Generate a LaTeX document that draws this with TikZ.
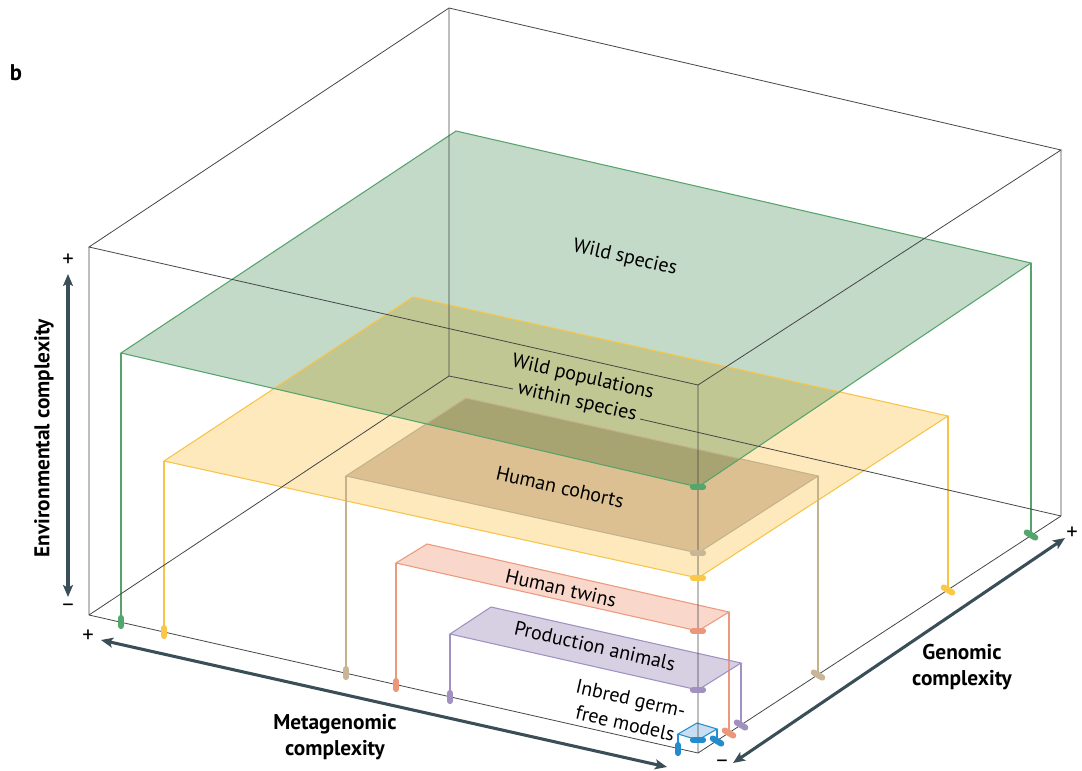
\documentclass[tikz,border=0pt]{standalone}
\usepackage{fontspec}
\setmainfont{PT Sans}
\usetikzlibrary{arrows.meta}
\definecolor{boxc}{RGB}{70,70,70}
\definecolor{axc}{RGB}{58,78,88}
\definecolor{grL}{RGB}{88,163,108}
\definecolor{grF}{RGB}{194,218,199}
\definecolor{grM}{RGB}{82,166,110}
\definecolor{yeL}{RGB}{247,196,72}
\definecolor{yeF}{RGB}{254,233,189}
\definecolor{yeM}{RGB}{250,200,70}
\definecolor{taL}{RGB}{196,178,140}
\definecolor{taF}{RGB}{221,211,196}
\definecolor{taM}{RGB}{200,182,148}
\definecolor{piL}{RGB}{236,153,125}
\definecolor{piF}{RGB}{249,216,203}
\definecolor{piM}{RGB}{236,150,122}
\definecolor{puL}{RGB}{160,145,195}
\definecolor{puF}{RGB}{214,208,226}
\definecolor{puM}{RGB}{160,145,192}
\definecolor{blL}{RGB}{40,142,206}
\definecolor{blF}{RGB}{200,222,242}
\definecolor{blM}{RGB}{35,140,205}
\begin{document}
\begin{tikzpicture}[x=0.75pt,y=-0.75pt,
  boxline/.style={draw=boxc, line width=0.6pt},
  pl/.style={line width=0.8pt},
  drop/.style={line width=0.9pt},
  mk/.style={line width=4.6pt, line cap=round},
  lbl/.style={font=\fontsize{15}{19}\selectfont, rotate=-12.8, align=center, inner sep=0pt},
  axlbl/.style={font=\fontsize{16}{19}\selectfont\bfseries, align=center, inner sep=0pt},
  sgn/.style={font=\fontsize{17}{19}\selectfont, inner sep=0pt},
  axarrow/.style={draw=axc, line width=2.3pt, {Stealth[length=9pt,width=7.5pt,inset=2pt]}-{Stealth[length=9pt,width=7.5pt,inset=2pt]}}
]
\useasboundingbox (0,0) rectangle (1082,771);
% box corners
\coordinate (FLB) at (89,615);
\coordinate (FLT) at (89,247);
\coordinate (BLT) at (449,8);
\coordinate (BLB) at (449,376);
\coordinate (FRB) at (698,753);
\coordinate (FRT) at (698,385);
\coordinate (BRT) at (1061,150);
\coordinate (BRB) at (1061,516);
% plane corners
\coordinate (gL) at (121,353); \coordinate (gB) at (456,131); \coordinate (gR) at (1031,263); \coordinate (gF) at (698,487);
\coordinate (gLd) at (121,622); \coordinate (gRd) at (1031,535);
\coordinate (yL) at (164,461); \coordinate (yB) at (413,297); \coordinate (yR) at (948,416); \coordinate (yF) at (698,578);
\coordinate (yLd) at (164,632); \coordinate (yRd) at (948,590);
\coordinate (tL) at (346,476); \coordinate (tB) at (466,398); \coordinate (tR) at (818,476); \coordinate (tF) at (698,553);
\coordinate (tLd) at (346,673); \coordinate (tRd) at (818,675);
\coordinate (pL) at (396,563); \coordinate (pB) at (427,544); \coordinate (pR) at (729,612); \coordinate (pF) at (698,631);
\coordinate (pLd) at (396,685); \coordinate (pRd) at (729,733);
\coordinate (uL) at (450,634); \coordinate (uB) at (491,607); \coordinate (uR) at (741,663); \coordinate (uF) at (698,690);
\coordinate (uLd) at (450,697); \coordinate (uRd) at (741,725);
\coordinate (bL) at (678,734); \coordinate (bB) at (697,723); \coordinate (bR) at (717,729); \coordinate (bF) at (698,740);
\coordinate (bLd) at (678,749); \coordinate (bRd) at (717,741);
% fills (multiply)
\begin{scope}[blend mode=multiply]
\fill[yeF] (yL) -- (yB) -- (yR) -- (yF) -- cycle;
\fill[taF] (tL) -- (tB) -- (tR) -- (tF) -- cycle;
\fill[grF] (gL) -- (gB) -- (gR) -- (gF) -- cycle;
\fill[piF] (pL) -- (pB) -- (pR) -- (pF) -- cycle;
\fill[puF] (uL) -- (uB) -- (uR) -- (uF) -- cycle;
\fill[blF] (bL) -- (bB) -- (bR) -- (bF) -- cycle;
\end{scope}
% plane borders and drops
\draw[pl, yeL] (yL) -- (yB) -- (yR) -- (yF) -- cycle;
\draw[drop, yeL] (yL) -- (yLd) (yR) -- (yRd);
\draw[pl, taL] (tL) -- (tB) -- (tR) -- (tF) -- cycle;
\draw[drop, taL] (tL) -- (tLd) (tR) -- (tRd);
\draw[pl, grL] (gL) -- (gB) -- (gR) -- (gF) -- cycle;
\draw[drop, grL] (gL) -- (gLd) (gR) -- (gRd);
\draw[pl, piL] (pL) -- (pB) -- (pR) -- (pF) -- cycle;
\draw[drop, piL] (pL) -- (pLd) (pR) -- (pRd);
\draw[pl, puL] (uL) -- (uB) -- (uR) -- (uF) -- cycle;
\draw[drop, puL] (uL) -- (uLd) (uR) -- (uRd);
\draw[pl, blL] (bL) -- (bB) -- (bR) -- (bF) -- cycle;
\draw[drop, blL] (bL) -- (bLd) (bR) -- (bRd);
% box edges
\draw[boxline] (FLB) -- (FRB) -- (BRB) (FLT) -- (FRT) -- (BRT) -- (BLT) -- cycle;
\draw[boxline] (FLB) -- (FLT) (FRB) -- (FRT) (BRB) -- (BRT) (BLB) -- (BLT) (FLB) -- (BLB);
\coordinate (gap1) at (513,389);
\coordinate (gap2) at (640,419);
\draw[boxline] (BLB) -- (gap1) (gap2) -- (BRB);
% marks
\foreach \c/\n in {grM/g, yeM/y, taM/t, piM/p, puM/u, blM/b} {
  \draw[mk, \c] ([xshift=-3.8pt]\n F) -- ([xshift=3.8pt]\n F);
  \draw[mk, \c] ([yshift=-3pt]\n Ld) -- ([yshift=3pt]\n Ld);
  \draw[mk, \c] ([xshift=-3.2pt,yshift=1.9pt]\n Rd) -- ([xshift=3.2pt,yshift=-1.9pt]\n Rd);
}
% labels
\node[lbl] (ws) at (625,258) {Wild species};
\node[lbl] (wp) at (580,390) {Wild populations\\within species};
\node[lbl] (hc) at (560,487) {Human cohorts};
\node[lbl] (ht) at (561,588) {Human twins};
\node[lbl] (pa) at (595,646) {Production animals};
\node[lbl] (ig) at (628,711) {Inbred germ-\\free models};
% axes
\coordinate (eT) at (68,274);
\coordinate (eB) at (68,597);
\draw[axarrow] (eT) -- (eB);
\coordinate (mL) at (101,640);
\coordinate (mR) at (667,767);
\draw[axarrow] (mL) -- (mR);
\coordinate (nF) at (733,763);
\coordinate (nB) at (1065,538);
\draw[axarrow] (nF) -- (nB);
\node[axlbl, rotate=90] (el) at (44,438) {Environmental complexity};
\node[axlbl] (ml) at (335,737) {Metagenomic\\complexity};
\node[axlbl] (gl) at (962,667) {Genomic\\complexity};
\node[sgn] (s1) at (68,260) {+};
\node[sgn] (s2) at (68,608) {−};
\node[sgn] (s3) at (88,636) {+};
\node[sgn] (s4) at (1072,533) {+};
\node[sgn] (s5) at (722,764) {−};
\node[font=\fontsize{17}{20}\selectfont\bfseries, inner sep=0pt] (b) at (16,73) {b};
\end{tikzpicture}
\end{document}
